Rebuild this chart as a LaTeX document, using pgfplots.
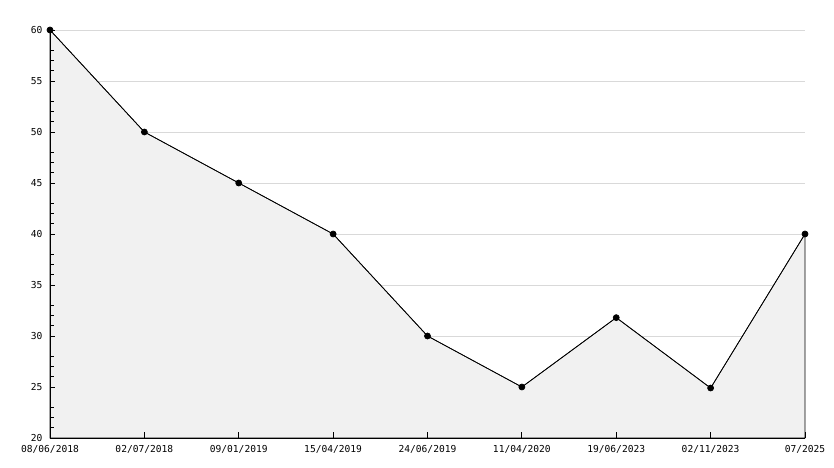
\documentclass[border=0pt]{standalone}
\usepackage{pgfplots}
\pgfplotsset{compat=1.18}
\usepackage{fontspec}
\setmonofont{DejaVu Sans Mono}
\definecolor{gridc}{HTML}{D9D9D9}
\definecolor{fillc}{HTML}{F1F1F1}
\pgfplotsset{
  layers/mylayers/.define layer set={
    axis background,axis grid,main,axis ticks,axis lines,axis tick labels,axis descriptions,axis foreground
  }{/pgfplots/layers/standard},
}
\begin{document}
\begin{tikzpicture}
\begin{axis}[
  set layers=mylayers,
  scale only axis,
  width=755bp, height=408bp,
  xmin=0, xmax=8, ymin=20, ymax=60,
  axis lines*=left,
  axis line style={black, line width=0.9bp},
  xtick={0,...,8},
  xticklabels={08/06/2018,02/07/2018,09/01/2019,15/04/2019,24/06/2019,11/04/2020,19/06/2023,02/11/2023,07/2025},
  ytick={20,25,...,60},
  minor ytick={21,22,23,26,27,28,31,32,33,36,37,38,41,42,43,46,47,48,51,52,53,56,57,58},
  ymajorgrids,
  major grid style={gridc, line width=0.9bp},
  tick style={black, line width=0.9bp},
  tick align=inside,
  major tick length=5.5bp,
  minor tick length=4bp,
  tick label style={font=\ttfamily\fontsize{9.6bp}{11bp}\selectfont},
  /pgf/number format/assume math mode=true,
  yticklabel style={xshift=-4bp},
  xticklabel style={yshift=-4bp},
  clip=false,
]
\addplot[fill=fillc, draw=black, line width=0.7bp] coordinates {
(0,60) (1,50) (2,45) (3,40) (4,30) (5,25) (6,31.8) (7,24.9) (8,40)
} \closedcycle;
\addplot[black, line width=0.7bp, mark=*, mark size=3bp, mark options={fill=black}] coordinates {
(0,60) (1,50) (2,45) (3,40) (4,30) (5,25) (6,31.8) (7,24.9) (8,40)
};
\coordinate (sw) at (rel axis cs:0,0);
\end{axis}
\pgfresetboundingbox
\path (sw) ++(-50bp,-30bp) rectangle ++(834bp,468bp);
\end{tikzpicture}
\end{document}
